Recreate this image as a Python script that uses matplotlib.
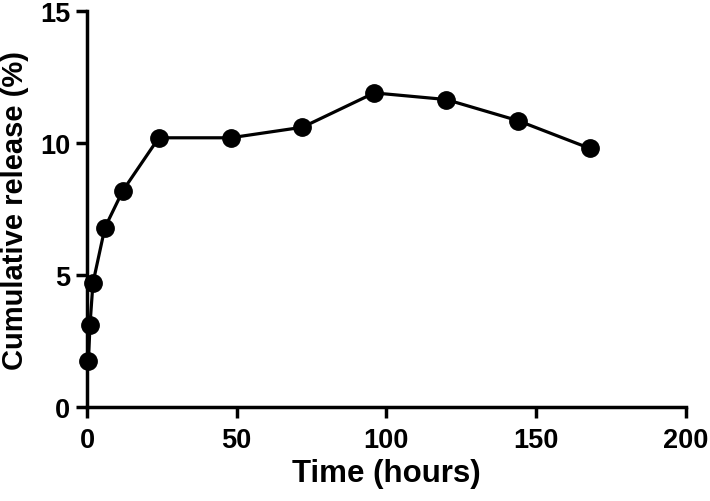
import matplotlib.pyplot as plt

plt.rcParams['font.family'] = ['Liberation Sans', 'DejaVu Sans']
plt.rcParams['font.weight'] = 'bold'

# release data
time_h = [0.5, 1, 2, 6, 12, 24, 48, 72, 96, 120, 144, 168]
release = [1.75, 3.1, 4.7, 6.8, 8.2, 10.2, 10.2, 10.6, 11.9, 11.65, 10.85, 9.8]

fig = plt.figure(figsize=(7.1, 5.02), dpi=100)
ax = fig.add_axes([0.1225, 0.187, 0.843, 0.789])

ax.plot(time_h, release, color='black', lw=2.3, marker='o', ms=12.5, clip_on=False, zorder=3)

ax.set_xlim(0, 200)
ax.set_ylim(0, 15)
ax.set_xticks([0, 50, 100, 150, 200])
ax.set_yticks([0, 5, 10, 15])

for s in ['top', 'right']:
    ax.spines[s].set_visible(False)
for s in ['left', 'bottom']:
    ax.spines[s].set_linewidth(2.5)
ax.tick_params(width=2.5, length=8, labelsize=19.5, direction='out')
ax.tick_params(axis='x', pad=6)
ax.tick_params(axis='y', pad=4)
for lab in ax.get_xticklabels() + ax.get_yticklabels():
    lab.set_fontweight('bold')

ax.set_xlabel('Time (hours)', fontsize=22.5, fontweight='bold', labelpad=4)
ax.set_ylabel('Cumulative release (%)', fontsize=21, fontweight='bold', labelpad=8)

fig.savefig('out.png', dpi=100)
